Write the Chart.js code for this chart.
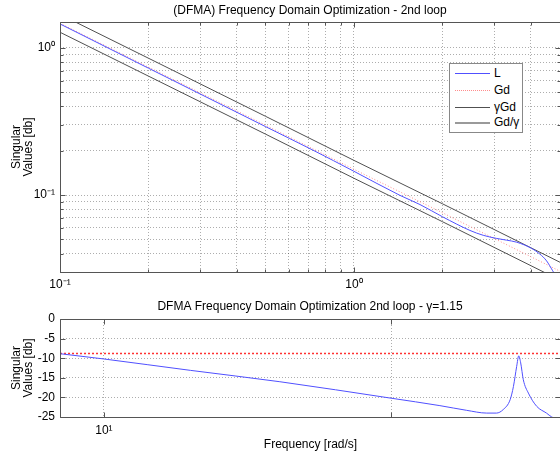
<!DOCTYPE html>
<html><head><meta charset="utf-8">
<script src="https://cdn.jsdelivr.net/npm/chart.js@4/dist/chart.umd.min.js"></script>
<style>
html,body{margin:0;padding:0;background:#fff;overflow:hidden;width:560px;height:457px;}
#c1{position:absolute;left:0;top:0;}
#c2{position:absolute;left:0;top:296px;}
#legend{position:absolute;left:449px;top:63px;width:72px;height:68px;border:1px solid #888;background:#fff;font:12px "Liberation Sans",Arial,sans-serif;color:#000;}
.row{position:absolute;left:0;height:16px;width:72px;}
.smp{position:absolute;left:5px;width:35px;top:8px;height:0;}
.lbl{position:absolute;left:44px;top:1px;white-space:nowrap;}
</style></head>
<body>
<canvas id="c1" width="620" height="300"></canvas>
<canvas id="c2" width="620" height="161"></canvas>
<div id="legend"></div>
<script>
// ---------- DATA: top plot (log-log) ----------
const topFreq        = [0.1, 0.2, 0.5, 1, 2, 5.1];
const topGd          = [1.47, 0.740, 0.2985, 0.1496, 0.0758, 0.0299];
const topGammaGd     = [1.69, 0.851, 0.343, 0.172, 0.0872, 0.0344];
const topGdOverGamma = [1.278, 0.643, 0.2596, 0.130, 0.0659, 0.0260];
const topLFreq = [0.1, 0.2, 0.5, 0.725, 1, 1.434, 1.677, 2.0, 2.48, 2.75, 3.06, 3.3, 3.58, 4.02, 4.29, 4.52, 4.74, 5.1];
const topL     = [1.455, 0.728, 0.292, 0.202, 0.145, 0.0995, 0.0862, 0.0712, 0.0575, 0.0533, 0.0507, 0.0494, 0.0478, 0.0434, 0.0397, 0.0357, 0.0306, 0.024];
const topXTicks  = [0.1,0.2,0.3,0.4,0.5,0.6,0.7,0.8,0.9,1,2,3,4];
const topXLabels = ['10⁻¹','','','','','','','','','10⁰','','',''];
const topXMajor  = [0.1, 1];
const topYTicks  = [0.03,0.04,0.05,0.06,0.07,0.08,0.09,0.1,0.2,0.3,0.4,0.5,0.6,0.7,0.8,0.9,1];
const topYLabels = ['','','','','','','','10⁻¹','','','','','','','','','10⁰'];
const topYMajor  = [0.1, 1];
const legendLabels = ['L', 'Gd', 'γGd', 'Gd/γ'];

// ---------- DATA: bottom plot ----------
const botFreq = [7.03, 10, 20, 41, 100, 148, 183.5, 215.5, 233, 246, 260, 267, 274, 278.6, 283, 289, 301, 322, 348, 363, 391];
const botL    = [-8.85, -10.2, -13.1, -16.0, -20.2, -22.1, -23.3, -24.0, -24.0, -23.1, -20.6, -17.2, -12.1, -9.4, -11.2, -15.5, -18.9, -22.3, -24.0, -25.0, -26.0];
const botGdFreq = [7.03, 391];
const botGd     = [-8.8, -8.8];
const botXTicks  = [10, 100];
const botXLabels = ['10¹', ''];
const botYTicks  = [-25, -20, -15, -10, -5, 0];
const botYLabels = ['-25', '-20', '-15', '-10', '-5', '0'];

const FONT = '"Liberation Sans", Arial, Helvetica, sans-serif';
Chart.defaults.font.family = FONT;
Chart.defaults.font.size = 12;
Chart.defaults.color = '#000';

const GRID = 'rgba(0,0,0,0.32)';
const BLUE = 'rgb(80,80,255)';
const DARK = '#505050';

function pts(xs, ys){ return xs.map((x,i)=>({x:x, y:ys[i]})); }

const frameTicks = {
  id:'frameTicks',
  afterDraw(chart, args, o){
    const {ctx, chartArea:a} = chart;
    const xs = chart.scales.x, ys = chart.scales.y;
    const L = Math.round(a.left)+0.5, R = Math.round(a.right)-0.5, T = Math.round(a.top)+0.5, B = Math.round(a.bottom)+0.5;
    ctx.save();
    ctx.strokeStyle = '#555'; ctx.lineWidth = 1; ctx.setLineDash([]);
    ctx.beginPath();
    ctx.moveTo(L,T); ctx.lineTo(R,T); ctx.lineTo(R,B); ctx.lineTo(L,B); ctx.closePath();
    xs.ticks.forEach(t=>{
      const p = Math.round(xs.getPixelForValue(t.value))+0.5;
      const len = o.xMajor.includes(t.value) ? 5 : 3;
      ctx.moveTo(p,B); ctx.lineTo(p,B-len);
      ctx.moveTo(p,T); ctx.lineTo(p,T+len);
    });
    ys.ticks.forEach(t=>{
      const p = Math.round(ys.getPixelForValue(t.value))+0.5;
      const len = (o.yMajor === 'all' || o.yMajor.includes(t.value)) ? 5 : 3;
      ctx.moveTo(L,p); ctx.lineTo(L+len,p);
      ctx.moveTo(R,p); ctx.lineTo(R-len,p);
    });
    ctx.stroke();
    ctx.restore();
  }
};

function yTitle(){ return {display:true, text:['Singular','Values [db]'], padding:{top:11,bottom:0}, font:{size:12, lineHeight:1}}; }
function dummyRight(){ return {position:'right', display:true, ticks:{display:false}, grid:{display:false}, border:{display:false}, afterFit:s=>{s.width=59;}}; }

// ---------- top chart ----------
new Chart(document.getElementById('c1'), {
  type:'line',
  data:{datasets:[
    {label:legendLabels[0], data:pts(topLFreq, topL), borderColor:BLUE, borderWidth:1, cubicInterpolationMode:'monotone'},
    {label:legendLabels[1], data:pts(topFreq, topGd), borderColor:'rgb(255,140,140)', borderWidth:1, borderDash:[1,2]},
    {label:legendLabels[2], data:pts(topFreq, topGammaGd), borderColor:DARK, borderWidth:1},
    {label:legendLabels[3], data:pts(topFreq, topGdOverGamma), borderColor:DARK, borderWidth:1}
  ]},
  options:{
    responsive:false, animation:false,
    elements:{point:{radius:0}, line:{tension:0}},
    layout:{padding:0},
    plugins:{
      legend:{display:false}, tooltip:{enabled:false},
      title:{display:true, text:'(DFMA) Frequency Domain Optimization - 2nd loop', font:{size:12, weight:'normal'}, padding:{top:3,bottom:4.6}, color:'#000'},
      frameTicks:{xMajor:topXMajor, yMajor:topYMajor}
    },
    scales:{
      x:{type:'logarithmic', min:0.1, max:5.06,
         afterBuildTicks:s=>{s.ticks = topXTicks.map(v=>({value:v}));},
         afterFit:s=>{s.height=28;},
         ticks:{autoSkip:false, maxRotation:0, minRotation:0, padding:5, callback:(v,i)=>topXLabels[i]},
         grid:{color:GRID, drawTicks:false}, border:{display:false, dash:[1,2]}},
      y:{type:'logarithmic', min:0.03, max:1.5,
         afterBuildTicks:s=>{s.ticks = topYTicks.map(v=>({value:v}));},
         afterFit:s=>{s.width=60;},
         ticks:{autoSkip:false, padding:5, callback:(v,i)=>topYLabels[i]},
         grid:{color:GRID, drawTicks:false}, border:{display:false, dash:[1,2]},
         title:yTitle()},
      y2:dummyRight()
    }
  },
  plugins:[frameTicks]
});

// ---------- bottom chart ----------
new Chart(document.getElementById('c2'), {
  type:'line',
  data:{datasets:[
    {label:'L', data:pts(botFreq, botL), borderColor:BLUE, borderWidth:1, cubicInterpolationMode:'monotone'},
    {label:'Gd', data:pts(botGdFreq, botGd), borderColor:'rgb(255,50,50)', borderWidth:1.5, borderDash:[2,2]}
  ]},
  options:{
    responsive:false, animation:false,
    elements:{point:{radius:0}, line:{tension:0}},
    layout:{padding:0},
    plugins:{
      legend:{display:false}, tooltip:{enabled:false},
      title:{display:true, text:'DFMA Frequency Domain Optimization 2nd loop - γ=1.15', font:{size:12, weight:'normal'}, padding:{top:3,bottom:5.6}, color:'#000'},
      frameTicks:{xMajor:botXTicks, yMajor:'all'}
    },
    scales:{
      x:{type:'logarithmic', min:7.03, max:391,
         afterBuildTicks:s=>{s.ticks = botXTicks.map(v=>({value:v}));},
         afterFit:s=>{s.height=40;},
         ticks:{autoSkip:false, maxRotation:0, minRotation:0, padding:6, callback:(v,i)=>botXLabels[i]},
         grid:{color:GRID, drawTicks:false}, border:{display:false, dash:[1,2]},
         title:{display:true, text:'Frequency [rad/s]', padding:{top:0,bottom:5}, font:{size:12}}},
      y:{type:'linear', min:-25, max:0,
         afterBuildTicks:s=>{s.ticks = botYTicks.map(v=>({value:v}));},
         afterFit:s=>{s.width=60;},
         ticks:{autoSkip:false, padding:5, callback:(v,i)=>botYLabels[i]},
         grid:{color:GRID, drawTicks:false}, border:{display:false, dash:[1,2]},
         title:yTitle()},
      y2:dummyRight()
    }
  },
  plugins:[frameTicks]
});

// ---------- legend (HTML, top plot) ----------
const legendStyles = [
  'border-top:1px solid '+BLUE,
  'border-top:1px dotted rgb(255,140,140)',
  'border-top:1px solid '+DARK,
  'border-top:2px solid #9a9a9a'
];
const rowCenters = [9, 26, 43, 58];
const lg = document.getElementById('legend');
legendLabels.forEach((lab,i)=>{
  const r = document.createElement('div');
  r.className='row'; r.style.top=(rowCenters[i]-8)+'px';
  const s = document.createElement('div'); s.className='smp'; s.setAttribute('style', legendStyles[i]);
  const t = document.createElement('div'); t.className='lbl'; t.textContent=lab;
  r.appendChild(s); r.appendChild(t); lg.appendChild(r);
});
</script>
</body></html>
